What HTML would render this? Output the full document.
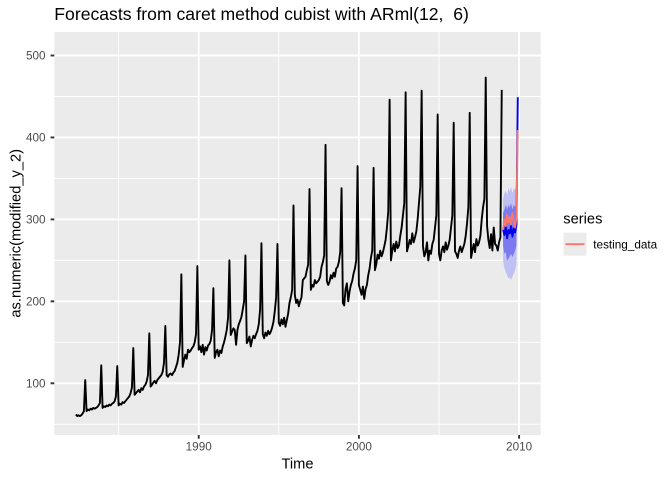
<!DOCTYPE html>
<html><head><meta charset="utf-8"><style>
html,body{margin:0;padding:0;background:#fff;}
svg{display:block;font-family:"Liberation Sans",Arial,sans-serif;}
</style></head><body>
<svg id="c" width="672" height="480" viewBox="0 0 672 480" xmlns="http://www.w3.org/2000/svg">
<rect x="0" y="0" width="672" height="480" fill="#fff"/>
<rect x="54.3" y="32" width="486.4" height="403" fill="#EBEBEB"/>
<g id="grid"></g>
<g id="series"></g>
<text x="54.3" y="20" font-size="17.6" fill="#000" xml:space="preserve" style="white-space:pre">Forecasts from caret method cubist with ARml(12,  6)</text>
<g id="yax" font-size="11.73" fill="#4D4D4D" text-anchor="end"></g>
<g id="xax" font-size="11.73" fill="#4D4D4D" text-anchor="middle"></g>
<text x="297.5" y="468.3" font-size="14.67" text-anchor="middle" fill="#000">Time</text>
<text transform="translate(20.5,233.3) rotate(-90)" font-size="14.67" text-anchor="middle" fill="#000">as.numeric(modified_y_2)</text>
<text x="563.3" y="223.3" font-size="14.67" fill="#000">series</text>
<rect x="563.5" y="232.7" width="23" height="23" fill="#EBEBEB"/>
<line x1="565.5" y1="244.2" x2="584.5" y2="244.2" stroke="#F8766D" stroke-width="1.9"/>
<text x="593.3" y="248.3" font-size="11.73" fill="#000">testing_data</text>
</svg>
<script>
(function(){
var NS="http://www.w3.org/2000/svg";
function X(t){return 198.7+(t-1990)*16.02;}
function Y(v){return 383.3-(v-100)*0.8195;}
function el(p,n,a){var e=document.createElementNS(NS,n);for(var k in a)e.setAttribute(k,a[k]);p.appendChild(e);return e;}
var g=document.getElementById('grid');
var L=54.3,R=540.7,T=32,B=435;
[50,150,250,350,450].forEach(function(v){var y=Y(v);el(g,'line',{x1:L,x2:R,y1:y,y2:y,stroke:'#fff','stroke-width':0.95});});
[1985,1995,2005].forEach(function(t){var x=X(t);el(g,'line',{x1:x,x2:x,y1:T,y2:B,stroke:'#fff','stroke-width':0.95});});
[100,200,300,400,500].forEach(function(v){var y=Y(v);el(g,'line',{x1:L,x2:R,y1:y,y2:y,stroke:'#fff','stroke-width':1.9});});
[1990,2000,2010].forEach(function(t){var x=X(t);el(g,'line',{x1:x,x2:x,y1:T,y2:B,stroke:'#fff','stroke-width':1.9});});
var ya=document.getElementById('yax');
[100,200,300,400,500].forEach(function(v){var y=Y(v);
 el(ya,'line',{x1:50.6,x2:54.3,y1:y,y2:y,stroke:'#333','stroke-width':1.9});
 var t=el(ya,'text',{x:45.5,y:y+4.2});t.textContent=String(v);});
var xa=document.getElementById('xax');
[1990,2000,2010].forEach(function(v){var x=X(v);
 el(xa,'line',{x1:x,x2:x,y1:435,y2:438.7,stroke:'#333','stroke-width':1.9});
 var t=el(xa,'text',{x:x,y:450.7});t.textContent=String(v);});

var d=[
62,60,61,60,61,63,66,104,
66,68,67,69,68,70,69,70,71,73,76,122,
70,72,71,73,72,74,73,75,76,78,84,121,
73,75,74,77,76,78,80,82,84,88,95,143,
86,88,90,92,89,94,92,96,98,102,110,161,
96,98,101,103,100,104,106,108,110,114,125,170,
110,108,111,112,110,113,115,120,125,135,150,233,
120,128,135,130,141,138,140,143,145,150,160,243,
141,145,138,147,135,144,140,146,148,152,165,216,
131,138,141,133,140,137,145,150,157,165,180,250,
159,163,167,165,147,165,172,176,181,190,200,256,
149,152,157,145,153,158,155,160,164,172,190,271,
160,155,162,158,164,160,163,168,175,188,205,270,
174,170,178,172,180,169,177,185,198,205,214,317,
208,198,202,194,200,205,226,228,230,238,245,337,
214,220,218,226,222,224,226,230,242,248,256,391,
225,220,224,232,228,235,230,240,242,248,260,338,
198,195,215,222,200,212,220,225,234,240,250,365,
220,214,208,218,203,215,220,232,240,253,262,363,
238,245,257,252,262,255,260,267,275,290,310,446,
250,262,270,261,273,265,268,280,290,305,320,455,
261,267,275,270,283,272,278,285,300,320,340,457,
267,255,260,272,250,262,258,270,275,290,305,428,
258,250,262,267,260,272,263,268,275,290,305,418,
261,258,253,262,267,260,265,270,280,295,315,430,
253,262,270,260,276,268,272,280,300,315,325,473,
292,275,265,282,262,290,270,268,262,272,278,458];
var s=document.getElementById('series');
var pts=[];
for(var i=0;i<d.length;i++){var t=1982+(4+i)/12;pts.push(X(t).toFixed(2)+','+Y(d[i]).toFixed(2));}
el(s,'polyline',{points:pts.join(' '),fill:'none',stroke:'#000','stroke-width':1.9,'stroke-linejoin':'round'});

var blue=[288,281,292,277,287,283,292,279,289,284,293,449];
var red=[287,300,292,306,296,303,294,308,298,290,302,409];
var lu=[325,332,335,330,338,334,340,332,338,336,345,462];
var ll=[250,240,236,232,228,229,226,230,234,238,245,436];
var du=[308,312,318,312,318,314,320,312,318,315,322,456];
var dl=[268,258,260,250,252,255,258,254,258,262,268,442];
function tx(m){return X(2009+m/12);}
function band(up,lo,fill){var p=[];for(var m=0;m<12;m++)p.push(tx(m).toFixed(2)+','+Y(up[m]).toFixed(2));
 for(var m=11;m>=0;m--)p.push(tx(m).toFixed(2)+','+Y(lo[m]).toFixed(2));
 el(s,'polygon',{points:p.join(' '),fill:fill,stroke:'none'});}
band(lu,ll,'#C0C0F3');
band(du,dl,'#7B7BEF');
function line(v,c){var p=[];for(var m=0;m<12;m++)p.push(tx(m).toFixed(2)+','+Y(v[m]).toFixed(2));
 el(s,'polyline',{points:p.join(' '),fill:'none',stroke:c,'stroke-width':1.9,'stroke-linejoin':'round'});}
line(blue,'#0000EE');
line(red,'#F8766D');
})();
</script>
</body></html>
